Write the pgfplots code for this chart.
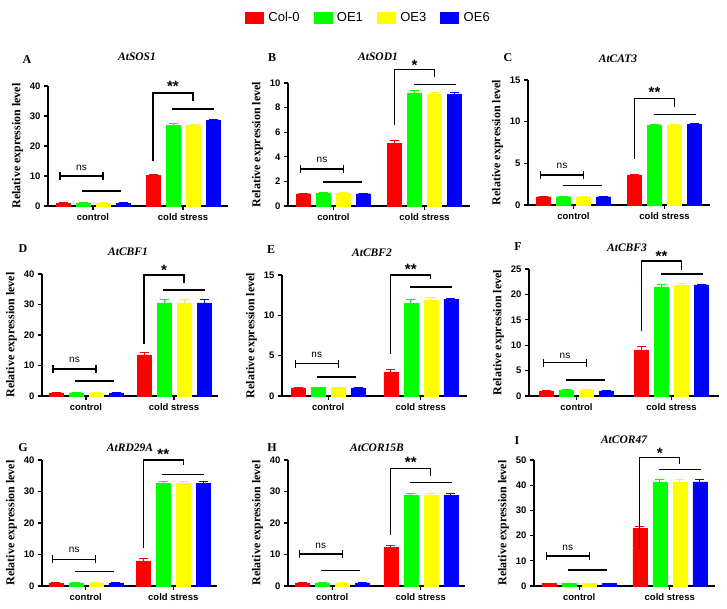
\documentclass[border=0pt]{standalone}
\usepackage{fontspec}
\setmainfont{Liberation Sans}
\newfontfamily\tnr{Liberation Serif}
\usepackage{pgfplots}
\usepackage{pgfplotstable}
\pgfplotsset{compat=1.18}
\definecolor{cR}{RGB}{255,0,0}
\definecolor{cG}{RGB}{0,255,0}
\definecolor{cY}{RGB}{255,255,0}
\definecolor{cB}{RGB}{0,0,255}

\pgfplotstableread{
x a ae b be c ce d de
0 1.0 0.05 1.0 0.05 1.0 0.05 1.0 0.05
1 10.3 0.3 27.0 0.4 26.9 0.4 28.5 0.4
}\dA
\pgfplotstableread{
x a ae b be c ce d de
0 1.0 0.05 1.05 0.05 1.05 0.05 1.0 0.05
1 5.1 0.2 9.2 0.2 9.1 0.15 9.1 0.1
}\dB
\pgfplotstableread{
x a ae b be c ce d de
0 1.0 0.05 1.0 0.05 1.0 0.05 1.0 0.05
1 3.6 0.1 9.6 0.1 9.6 0.1 9.65 0.1
}\dC
\pgfplotstableread{
x a ae b be c ce d de
0 1.0 0.1 1.0 0.1 1.0 0.1 1.0 0.1
1 13.5 0.7 30.5 1.0 30.5 1.0 30.5 1.2
}\dD
\pgfplotstableread{
x a ae b be c ce d de
0 1.0 0.05 1.05 0.05 1.05 0.05 1.0 0.05
1 3.0 0.3 11.5 0.5 11.9 0.3 11.95 0.1
}\dE
\pgfplotstableread{
x a ae b be c ce d de
0 1.0 0.1 1.1 0.1 1.1 0.1 1.0 0.1
1 9.1 0.6 21.5 0.5 21.8 0.4 21.9 0.1
}\dF
\pgfplotstableread{
x a ae b be c ce d de
0 1.0 0.1 1.0 0.1 1.0 0.1 1.0 0.1
1 8.0 0.6 32.5 0.6 32.5 0.8 32.5 0.6
}\dG
\pgfplotstableread{
x a ae b be c ce d de
0 1.0 0.1 1.0 0.1 1.0 0.1 1.0 0.1
1 12.2 0.6 28.8 0.5 28.7 0.7 28.8 0.5
}\dH
\pgfplotstableread{
x a ae b be c ce d de
0 1.0 0.1 1.0 0.1 1.0 0.1 1.0 0.1
1 22.8 1.0 41.3 1.0 41.2 1.2 41.3 0.8
}\dI

\pgfplotsset{
 panel/.style={
   scale only axis, ybar, bar width=14pt, clip=false,
   xmin=-0.5, xmax=1.5, ymin=0,
   xtick={0,1}, xticklabels={control, cold stress},
   axis lines=left, axis line style={-, line width=1.2pt},
   tick align=outside, major tick length=4pt,
   tick style={line width=1.2pt, black},
   ticklabel style={font=\bfseries\fontsize{9.5}{10}\selectfont},
   /pgf/number format/assume math mode=true,
   ylabel={Relative expression level},
   ylabel style={font=\tnr\bfseries\fontsize{12}{12}\selectfont},
   anchor=south west,
 },
 mb/.style 2 args={bar shift=#2, fill=#1, draw=#1, line width=0.3pt,
   error bars/.cd, y dir=plus, y explicit,
   error bar style={#1, line width=0.9pt},
   error mark options={#1, rotate=90, mark size=4.5pt, line width=0.9pt}},
}

\newcommand{\bars}[1]{%
 \addplot[mb={cR}{-30pt}] table[x=x,y=a,y error=ae]{#1};
 \addplot[mb={cG}{-10pt}] table[x=x,y=b,y error=be]{#1};
 \addplot[mb={cY}{10pt}] table[x=x,y=c,y error=ce]{#1};
 \addplot[mb={cB}{30pt}] table[x=x,y=d,y error=de]{#1};
}
\newcommand{\nsann}[3]{%
 \draw[line width=1.3pt] ([xshift=-33pt]axis cs:0,#1) -- ([xshift=10pt]axis cs:0,#1);
 \draw[line width=1.3pt] ([xshift=-33pt,yshift=4pt]axis cs:0,#1) -- ([xshift=-33pt,yshift=-4pt]axis cs:0,#1);
 \draw[line width=1.3pt] ([xshift=10pt,yshift=4pt]axis cs:0,#1) -- ([xshift=10pt,yshift=-4pt]axis cs:0,#1);
 \node[font=\fontsize{10}{10}\selectfont] at ([xshift=-11.5pt]axis cs:0,#2) {ns};
 \draw[line width=1.3pt] ([xshift=-11pt]axis cs:0,#3) -- ([xshift=28pt]axis cs:0,#3);
}
\newcommand{\coldann}[6]{%
 \draw[line width=1.3pt] ([xshift=-30pt]axis cs:1,#1) -- ([xshift=-30pt]axis cs:1,#2) -- ([xshift=10pt]axis cs:1,#2) -- ([xshift=10pt]axis cs:1,#3);
 \draw[line width=1.3pt] ([xshift=-11pt]axis cs:1,#4) -- ([xshift=31pt]axis cs:1,#4);
 \node[font=\bfseries\fontsize{15}{15}\selectfont, yshift=-3pt] at ([xshift=-10pt]axis cs:1,#6) {#5};
}

\begin{document}
\begin{tikzpicture}
\useasboundingbox (0pt,0pt) rectangle (727pt,-608pt);

% A
\begin{axis}[panel, at={(48pt,-206pt)}, width=180pt, height=120pt, ymax=40, ytick={0,10,20,30,40},
  legend columns=4, legend style={at={(1.78,1.57)}, anchor=center, draw=none, font=\fontsize{13}{13}\selectfont,
  /tikz/every even column/.append style={column sep=12pt},
  /tikz/every odd column/.append style={column sep=3pt}}]
\addlegendimage{legend image code/.code={\fill[cR] (0pt,-5.5pt) rectangle (18pt,5.5pt);}}
\addlegendimage{legend image code/.code={\fill[cG] (0pt,-5.5pt) rectangle (18pt,5.5pt);}}
\addlegendimage{legend image code/.code={\fill[cY] (0pt,-5.5pt) rectangle (18pt,5.5pt);}}
\addlegendimage{legend image code/.code={\fill[cB] (0pt,-5.5pt) rectangle (18pt,5.5pt);}}
\bars{\dA}
\legend{Col-0,OE1,OE3,OE6}
\nsann{10}{12.6}{5}
\coldann{15}{37.7}{35}{32.3}{**}{40.8}
\end{axis}

% B
\begin{axis}[panel, at={(288pt,-206pt)}, width=182pt, height=123pt, ymax=10, ytick={0,2,4,6,8,10}]
\bars{\dB}
\nsann{3.0}{3.75}{1.95}
\coldann{6.6}{11.1}{10.5}{9.9}{*}{11.7}
\end{axis}

% C
\begin{axis}[panel, at={(528pt,-205pt)}, width=182pt, height=125pt, ymax=15, ytick={0,5,10,15}]
\bars{\dC}
\nsann{3.6}{4.7}{2.3}
\coldann{5.5}{12.8}{11.8}{10.9}{**}{13.9}
\end{axis}

% D
\begin{axis}[panel, at={(42pt,-396pt)}, width=176pt, height=122pt, ymax=40, ytick={0,10,20,30,40}]
\bars{\dD}
\nsann{8.9}{12}{4.9}
\coldann{17}{39.7}{37.1}{34.8}{*}{42.3}
\end{axis}

% E
\begin{axis}[panel, at={(282pt,-396pt)}, width=185pt, height=121pt, ymax=15, ytick={0,5,10,15}]
\bars{\dE}
\nsann{4.0}{5.1}{2.35}
\coldann{5.2}{15.0}{14.5}{13.5}{**}{16.1}
\end{axis}

% F
\begin{axis}[panel, at={(529pt,-396pt)}, width=190pt, height=127pt, ymax=25, ytick={0,5,10,15,20,25}]
\bars{\dF}
\nsann{6.55}{7.9}{3.15}
\coldann{12.7}{26.6}{24.8}{24.0}{**}{28.1}
\end{axis}

% G
\begin{axis}[panel, at={(42pt,-586pt)}, width=175pt, height=126pt, ymax=40, ytick={0,10,20,30,40}]
\bars{\dG}
\nsann{8.5}{11.4}{4.5}
\coldann{12.2}{40}{38.4}{35.5}{**}{42.6}
\end{axis}

% H
\begin{axis}[panel, at={(288pt,-586pt)}, width=177pt, height=126pt, ymax=40, ytick={0,10,20,30,40}]
\bars{\dH}
\nsann{10.2}{12.6}{4.9}
\coldann{16.2}{37.4}{34.9}{32.8}{**}{40.3}
\end{axis}

% I
\begin{axis}[panel, at={(534pt,-586pt)}, width=181pt, height=126pt, ymax=50, ytick={0,10,20,30,40,50}]
\bars{\dI}
\nsann{11.9}{15.3}{6.35}
\coldann{14.6}{51}{48.4}{46.3}{*}{54}
\end{axis}

% panel letters and titles
\tikzset{let/.style={font=\tnr\bfseries\fontsize{12}{12}\selectfont}, tit/.style={font=\tnr\bfseries\itshape\fontsize{11.5}{12}\selectfont}}
\node[let] at (27pt,-60pt) {A};  \node[tit] at (137pt,-57pt) {AtSOS1};
\node[let] at (272pt,-58pt) {B}; \node[tit] at (378pt,-57pt) {AtSOD1};
\node[let] at (508pt,-58pt) {C}; \node[tit] at (618pt,-59pt) {AtCAT3};
\node[let] at (23pt,-249pt) {D}; \node[tit] at (128pt,-252pt) {AtCBF1};
\node[let] at (271pt,-250pt) {E}; \node[tit] at (372pt,-253pt) {AtCBF2};
\node[let] at (518pt,-247pt) {F}; \node[tit] at (627pt,-248pt) {AtCBF3};
\node[let] at (23pt,-448pt) {G}; \node[tit] at (130pt,-448pt) {AtRD29A};
\node[let] at (272pt,-448pt) {H}; \node[tit] at (377pt,-448pt) {AtCOR15B};
\node[let] at (517pt,-441pt) {I}; \node[tit] at (624pt,-440pt) {AtCOR47};
\end{tikzpicture}
\end{document}
